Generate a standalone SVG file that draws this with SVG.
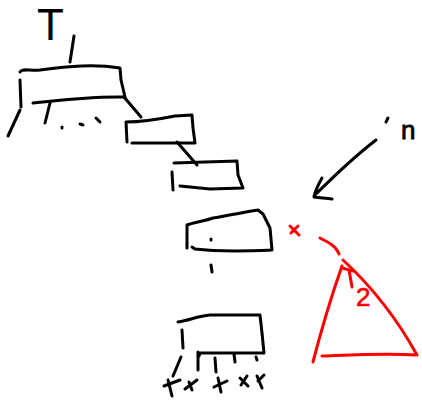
<svg xmlns="http://www.w3.org/2000/svg" width="422" height="406" viewBox="0 0 422 406">
<style>
.k{fill:none;stroke:#000;stroke-width:3;stroke-linecap:round;stroke-linejoin:round}
.r{fill:none;stroke:#f00;stroke-width:3;stroke-linecap:round;stroke-linejoin:round}
.t{font-family:"Liberation Sans",sans-serif;fill:#000}
.tr{font-family:"Liberation Sans",sans-serif;fill:#f00}
</style>
<rect width="422" height="406" fill="#fff"/>
<g id="label-T"><text class="t" x="37" y="40" font-size="44">T</text></g>
<g id="connectors">
<path class="k" d="M74,36 L70,62"/>
<path class="k" d="M20,110 L8,136"/>
<path class="k" d="M50,103 L45,123"/>
<path class="k" d="M62,127 L62,128 M80,124 L83,125 M96,118 L100,122"/>
<path class="k" d="M124,97 L141,117"/>
<path class="k" d="M177,142 L197,165"/>
<path class="k" d="M211,265 L212,272"/>
<path class="k" d="M181,357 L173,376 M198,352 L198,370 M215,358 L216,372 M234,354 L235,362 M256,357 L257,360"/>
<path class="k" d="M376,140 C350,160 330,180 314,196 M322,178 C318,185 315,192 314,197 C320,198 326,198 332,199"/>
</g>
<g id="node1"><path class="k" d="M21,107 L20,80 M20,72 C22,68 30,71 40,70 C70,66 95,64 120,68 L121,80 L125,97 C95,96 60,100 33,103"/></g>
<g id="node2"><path class="k" d="M127,142 L126,122 C140,122 160,119 175,116 L192,115 L193,128 L195,143 L132,143"/></g>
<g id="node3"><path class="k" d="M173,190 L172,172 M174,163 L237,161 L238,175 L243,188 L210,189 L180,186"/></g>
<g id="node4"><path class="k" d="M187,248 L187,225 C195,222 205,221 213,218 C230,215 245,212 258,210 L263,214 L270,228 L272,250 C250,251 220,252 195,249 L192,247 M211,239 L211,240"/></g>
<g id="node5"><path class="k" d="M183,348 L182,330 M178,322 C190,320 198,316 210,315 L260,315 L262,333 L264,353 L200,353 L199,356"/></g>
<g id="leaves" class="k">
<path d="M164,386 L180,380 M168,380 L172,396"/>
<path d="M185,389 L197,380 M189,382 L192,390"/>
<path d="M214,387 L227,381 M218,378 L221,392"/>
<path d="M240,378 L248,386 M247,376 L241,385"/>
<path d="M257,376 L262,388 M264,375 L258,381"/>
</g>
<g id="label-n">
<path class="k" d="M386,122 L388,118"/>
<text class="t" x="401" y="139" font-size="26" stroke="#000" stroke-width="0.8">n</text>
</g>
<g id="red">
<path class="r" d="M290,226 L299,235 M298,226 L291,233"/>
<path class="r" d="M320,238 C328,242 336,246 339,254"/>
<path class="r" d="M343,260 C370,285 395,315 417,355 C385,353 350,355 322,356"/>
<path class="r" d="M342,266 C330,300 320,335 313,362"/>
<path class="r" d="M342,268 L353,271 M349,270 L352,287"/>
<text class="tr" x="356" y="306" font-size="26" stroke="#f00" stroke-width="0.6">2</text>
</g>
</svg>
